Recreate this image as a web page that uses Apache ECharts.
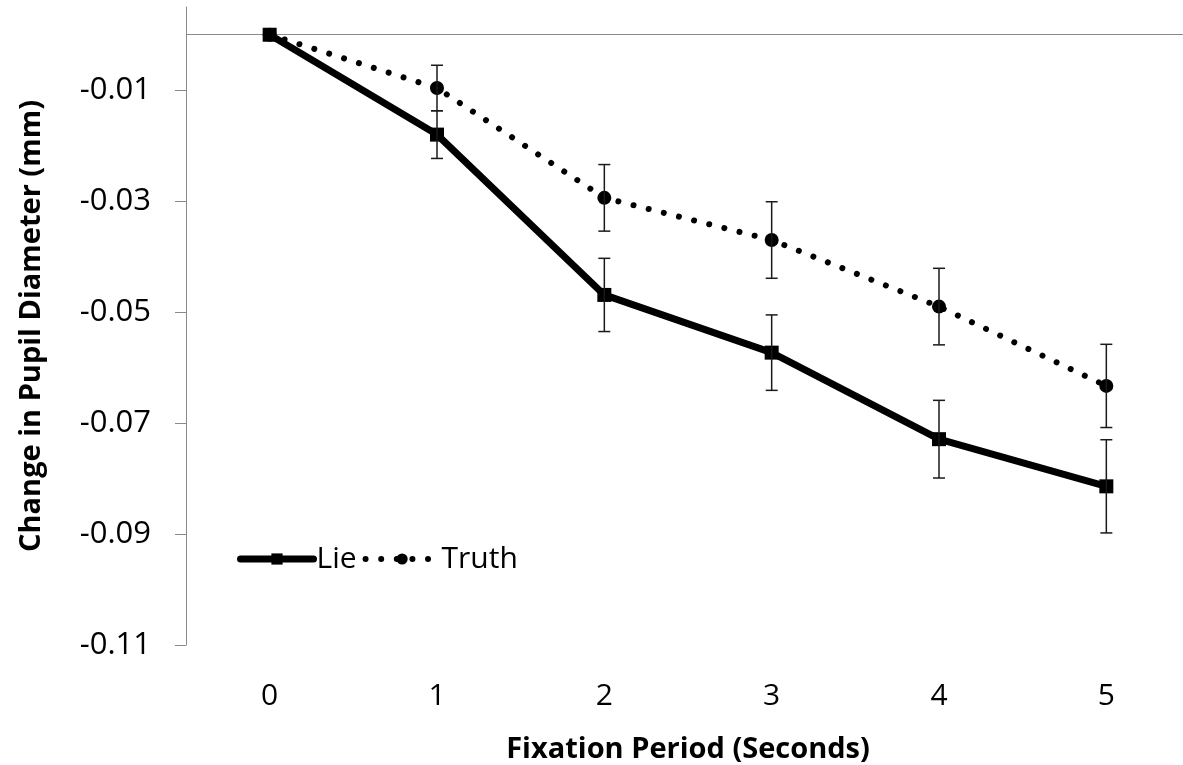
<!DOCTYPE html>
<html>
<head>
<meta charset="utf-8">
<script src="https://cdn.jsdelivr.net/npm/echarts@6/dist/echarts.min.js"></script>
<style>
  html, body { margin: 0; padding: 0; background: #fff; }
  #chart { width: 1183px; height: 765px; }
</style>
</head>
<body>
<div id="chart"></div>
<script>
// fixation period categories
var periods = ['0', '1', '2', '3', '4', '5'];

// mean change in pupil diameter (mm) and error (+/-)
var lieValues = [0, -0.0180, -0.0469, -0.0573, -0.0729, -0.0814];
var lieErrors = [0, 0.0043, 0.0066, 0.0068, 0.0070, 0.0084];
var truthValues = [0, -0.0096, -0.0294, -0.0370, -0.0490, -0.0633];
var truthErrors = [0, 0.0041, 0.0060, 0.0069, 0.0069, 0.0075];

// y tick labels
var yTicks = [-0.11, -0.09, -0.07, -0.05, -0.03, -0.01];

var FONT = '"Open Sans", "DejaVu Sans", sans-serif';
var lieLine = { color: '#000', width: 7, type: 'solid' };
var truthLine = { color: '#000', width: 6, type: [0.01, 15.6], cap: 'round' };

function errorData(values, errors) {
    var out = [];
    for (var i = 0; i < values.length; i++) {
        if (errors[i] > 0) {
            out.push([i, values[i] - errors[i], values[i] + errors[i]]);
        }
    }
    return out;
}

function renderErrorBar(params, api) {
    var x = api.value(0);
    var lo = api.coord([x, api.value(1)]);
    var hi = api.coord([x, api.value(2)]);
    var half = 6;
    var style = { stroke: '#1a1a1a', lineWidth: 1.5 };
    return {
        type: 'group',
        children: [
            { type: 'line', shape: { x1: hi[0], y1: hi[1], x2: lo[0], y2: lo[1] }, style: style },
            { type: 'line', shape: { x1: hi[0] - half, y1: hi[1], x2: hi[0] + half, y2: hi[1] }, style: style },
            { type: 'line', shape: { x1: lo[0] - half, y1: lo[1], x2: lo[0] + half, y2: lo[1] }, style: style }
        ]
    };
}

var myChart = echarts.init(document.getElementById('chart'));
myChart.setOption({
    animation: false,
    grid: { left: 186, width: 1004, top: 7, bottom: 120, containLabel: false, outerBoundsMode: 'none' },
    legend: {
        data: [
            { name: 'Lie', lineStyle: { color: '#000', width: 7, type: 'solid', cap: 'round' } },
            { name: 'Truth', lineStyle: truthLine }
        ],
        left: 237,
        top: 544,
        padding: 0,
        itemWidth: 73,
        itemHeight: 14,
        itemGap: 6,
        textStyle: { fontFamily: FONT, fontSize: 30, color: '#000', padding: [0, 0, 0, -2] }
    },
    xAxis: {
        type: 'category',
        data: periods,
        boundaryGap: true,
        axisLine: { show: false, onZero: false },
        axisTick: { show: false },
        axisLabel: { margin: 36, fontFamily: FONT, fontSize: 30, color: '#000' },
        name: 'Fixation Period (Seconds)',
        nameLocation: 'middle',
        nameGap: 90,
        nameTextStyle: { fontFamily: FONT, fontSize: 29, fontWeight: 'bold', color: '#000' },
        splitLine: { show: false }
    },
    yAxis: {
        type: 'value',
        min: -0.11,
        max: 0.005,
        axisLine: { show: true, lineStyle: { color: '#8a8a8a', width: 1 } },
        axisTick: { show: true, length: 11, customValues: yTicks, lineStyle: { color: '#8a8a8a' } },
        axisLabel: {
            customValues: yTicks,
            margin: 35,
            fontFamily: FONT,
            fontSize: 31,
            color: '#000',
            formatter: function (v) { return v.toFixed(2); }
        },
        splitLine: { show: false },
        name: 'Change in Pupil Diameter (mm)',
        nameLocation: 'middle',
        nameGap: 140,
        nameTextStyle: { fontFamily: FONT, fontSize: 29, fontWeight: 'bold', color: '#000' }
    },
    series: [
        {
            name: 'Truth',
            type: 'line',
            data: truthValues,
            symbol: 'circle',
            symbolSize: 14,
            itemStyle: { color: '#000' },
            lineStyle: truthLine,
            z: 3,
            markLine: {
                silent: true,
                symbol: 'none',
                label: { show: false },
                lineStyle: { color: '#8a8a8a', width: 1, type: 'solid' },
                data: [{ yAxis: 0 }],
                z: 1
            }
        },
        {
            name: 'Lie',
            type: 'line',
            data: lieValues,
            symbol: 'rect',
            symbolSize: 14,
            itemStyle: { color: '#000' },
            lineStyle: lieLine,
            z: 4
        },
        {
            name: 'Truth err',
            type: 'custom',
            renderItem: renderErrorBar,
            data: errorData(truthValues, truthErrors),
            z: 5
        },
        {
            name: 'Lie err',
            type: 'custom',
            renderItem: renderErrorBar,
            data: errorData(lieValues, lieErrors),
            z: 5
        }
    ]
});
</script>
</body>
</html>
